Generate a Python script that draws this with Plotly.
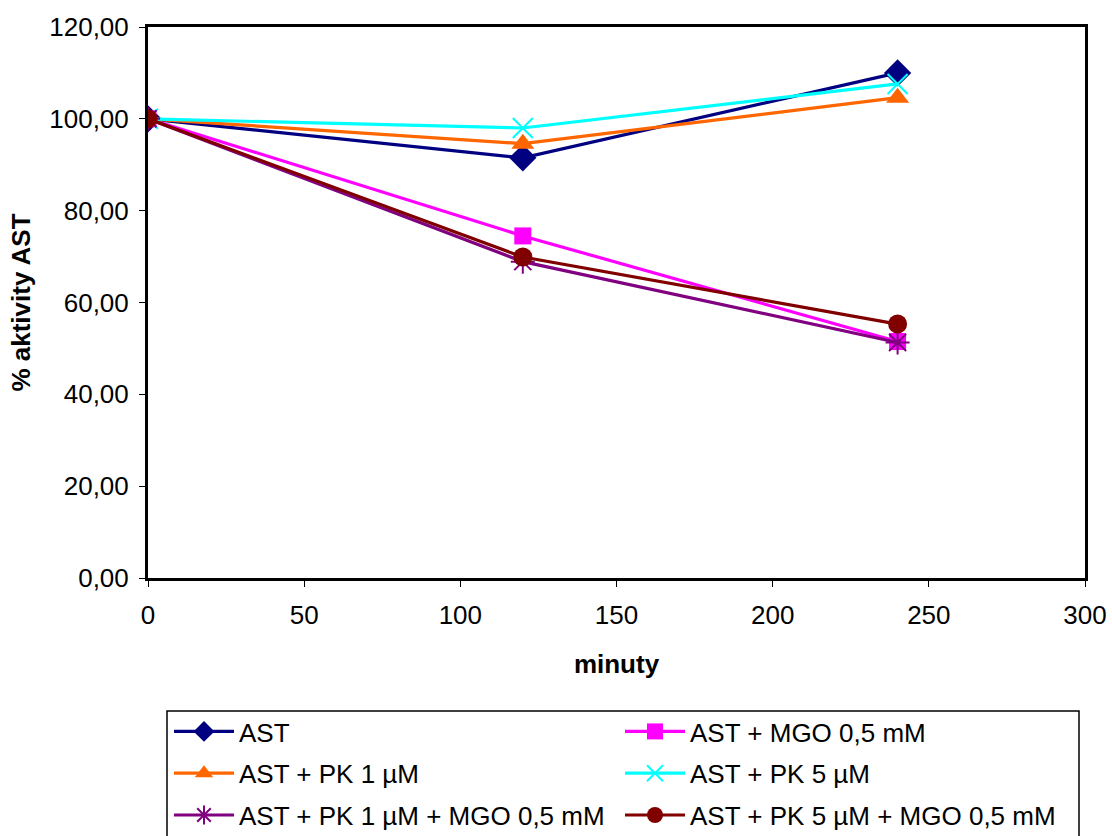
import plotly.graph_objects as go

minutes = [0, 120, 240]
ast = [100.0, 91.5, 110.0]
ast_mgo = [100.0, 74.5, 51.5]
ast_pk1 = [100.0, 94.6, 104.6]
ast_pk5 = [100.0, 98.0, 107.6]
ast_pk1_mgo = [100.0, 68.9, 51.3]
ast_pk5_mgo = [100.0, 69.9, 55.3]

names = ["AST", "AST + MGO 0,5 mM", "AST + PK 1 µM", "AST + PK 5 µM",
         "AST + PK 1 µM + MGO 0,5 mM", "AST + PK 5 µM + MGO 0,5 mM"]
series = [ast, ast_mgo, ast_pk1, ast_pk5, ast_pk1_mgo, ast_pk5_mgo]
colors = ["#000080", "#FF00FF", "#FF6600", "#00FFFF", "#800080", "#800000"]
symbols = ["diamond", "square", "triangle-up", "x-thin-open", "asterisk-open", "circle"]
sizes = [21, 17, 20, 20, 20, 19]
legends = ["legend", "legend2", "legend", "legend2", "legend", "legend2"]

FONT = "Liberation Sans, Arial, sans-serif"
FS = 26

fig = go.Figure()
for i, (n, y) in enumerate(zip(names, series)):
    open_sym = symbols[i].endswith("open")
    fig.add_trace(go.Scatter(
        x=minutes, y=y, name=n, mode="lines+markers",
        line=dict(color=colors[i], width=3.2),
        marker=dict(symbol=symbols[i], size=sizes[i], color=colors[i],
                    line=dict(color=colors[i], width=2 if open_sym else 0)),
        legend=legends[i], legendgroup=n,
    ))

axis_common = dict(showline=True, mirror=True, linewidth=3, linecolor="black",
                   ticks="outside", ticklen=6, tickwidth=1, tickcolor="black",
                   showgrid=False, zeroline=False, automargin=False,
                   tickfont=dict(family=FONT, size=FS, color="black"))

fig.update_xaxes(range=[0, 300], dtick=50, tick0=0, ticklabelstandoff=6,
                 title=dict(text="<b>minuty</b>", font=dict(family=FONT, size=FS, color="black"), standoff=26),
                 **axis_common)
fig.update_yaxes(range=[0, 120], dtick=20, tick0=0, tickformat=".2f", ticklabelstandoff=5,
                 title=dict(text="<b>% aktivity AST</b>", font=dict(family=FONT, size=FS, color="black"), standoff=12),
                 **axis_common)

# plot area in pixels: x 148..1085, y 27..578
pw, ph = 1085 - 148, 578 - 27
def px(xpix):
    return (xpix - 148) / pw
def py(ypix):
    return (578 - ypix) / ph

leg_common = dict(orientation="v", xanchor="left", yanchor="top",
                  bgcolor="rgba(0,0,0,0)", borderwidth=0, tracegroupgap=5,
                  font=dict(family=FONT, size=FS, color="black"), itemwidth=60)

fig.update_layout(
    width=1112, height=836,
    margin=dict(l=148, r=27, t=27, b=258, autoexpand=False),
    paper_bgcolor="white", plot_bgcolor="white",
    separators=", ",
    showlegend=True,
    legend=dict(x=px(169), y=py(708), **leg_common),
    legend2=dict(x=px(620), y=py(708), **leg_common),
    shapes=[dict(type="rect", xref="paper", yref="paper",
                 x0=px(167), x1=px(1079), y0=py(845), y1=py(711),
                 line=dict(color="black", width=1.5), fillcolor="rgba(0,0,0,0)", layer="below")],
)

fig.write_html("out.html")
